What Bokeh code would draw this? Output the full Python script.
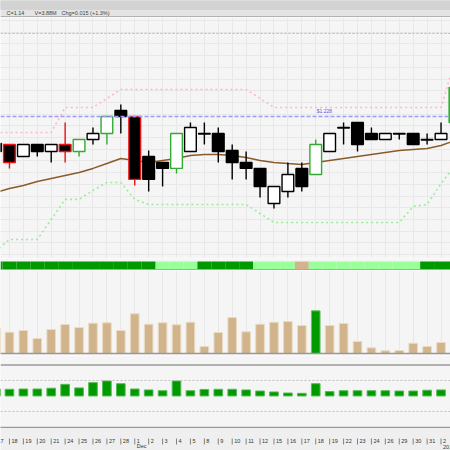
from bokeh.plotting import figure
from bokeh.layouts import column
from bokeh.models import ColumnDataSource, Span, FixedTicker, SingleIntervalTicker, Range1d
from bokeh.core.properties import value
from bokeh.embed import file_html
from bokeh.resources import INLINE

# ---------------- data ----------------
day_labels = ["17", "18", "19", "20", "21", "24", "25", "26", "27", "28",
              "1", "2", "3", "4", "5", "8", "9", "10", "11", "12",
              "15", "16", "17", "18", "19", "22", "23", "24", "26", "29",
              "30", "31", "2", "5"]
month_index = [10, 32]
month_names = ["Dec", "2015"]

opens = [1.2049, 1.2041, 1.1938, 1.2041, 1.1981, 1.2041, 1.1981, 1.2083, 1.2135, 1.2331,
         1.2280, 1.1938, 1.1887, 1.1836, 1.1981, 1.2135, 1.2135, 1.1989, 1.1887, 1.1836,
         1.1536, 1.1639, 1.1836, 1.1784, 1.1981, 1.2186, 1.2229, 1.2135, 1.2083, 1.2135,
         1.2135, 1.2083, 1.2083, 1.2229]
highs = [1.2075, 1.2041, 1.2041, 1.2041, 1.2041, 1.2229, 1.2083, 1.2186, 1.2280, 1.2383,
         1.2280, 1.1989, 1.1887, 1.2135, 1.2229, 1.2229, 1.2186, 1.2041, 1.1981, 1.1836,
         1.1682, 1.1887, 1.1887, 1.2083, 1.2135, 1.2229, 1.2229, 1.2186, 1.2135, 1.2135,
         1.2135, 1.2135, 1.2229, 1.2540]
lows = [1.1938, 1.1836, 1.1938, 1.1938, 1.1887, 1.1887, 1.1938, 1.2041, 1.2041, 1.2135,
        1.1690, 1.1639, 1.1682, 1.1793, 1.1981, 1.2041, 1.1887, 1.1742, 1.1742, 1.1588,
        1.1494, 1.1588, 1.1639, 1.1784, 1.1981, 1.2041, 1.1981, 1.2083, 1.2083, 1.2083,
        1.2041, 1.2041, 1.2083, 1.2229]
closes = [1.1981, 1.1887, 1.2041, 1.1981, 1.2041, 1.1981, 1.2083, 1.2135, 1.2280, 1.2280,
          1.1742, 1.1742, 1.1836, 1.2135, 1.2186, 1.2130, 1.1981, 1.1887, 1.1836, 1.1682,
          1.1682, 1.1784, 1.1682, 1.2041, 1.2135, 1.2181, 1.2041, 1.2083, 1.2135, 1.2130,
          1.2041, 1.2078, 1.2135, 1.2528]
# candle outline signal: k = neutral, r = bearish signal, g = bullish signal
signal = ["k", "r", "k", "k", "k", "r", "g", "k", "g", "k",
          "r", "k", "k", "g", "k", "k", "k", "k", "k", "k",
          "k", "k", "k", "g", "k", "k", "k", "k", "k", "k",
          "k", "k", "k", "g"]

ma = [1.1630, 1.1665, 1.1690, 1.1724, 1.1750, 1.1776, 1.1801, 1.1836, 1.1878, 1.1921,
      1.1904, 1.1887, 1.1904, 1.1921, 1.1947, 1.1955, 1.1955, 1.1947, 1.1930, 1.1904,
      1.1887, 1.1878, 1.1870, 1.1887, 1.1904, 1.1921, 1.1938, 1.1955, 1.1972, 1.1989,
      1.1998, 1.2006, 1.2032, 1.2075]
upper_stop = [1.2143, 1.2143, 1.2143, 1.2143, 1.2143, 1.2357, 1.2357, 1.2357, 1.2434, 1.2511,
              1.2511, 1.2511, 1.2511, 1.2511, 1.2511, 1.2511, 1.2511, 1.2511, 1.2511, 1.2434,
              1.2357, 1.2357, 1.2357, 1.2357, 1.2357, 1.2357, 1.2357, 1.2357, 1.2357, 1.2357,
              1.2357, 1.2357, 1.2357, 1.2759]
lower_stop = [1.1126, 1.1229, 1.1229, 1.1229, 1.1400, 1.1571, 1.1571, 1.1648, 1.1716, 1.1716,
              1.1571, 1.1528, 1.1528, 1.1528, 1.1528, 1.1528, 1.1528, 1.1528, 1.1528, 1.1451,
              1.1374, 1.1374, 1.1374, 1.1374, 1.1374, 1.1374, 1.1374, 1.1374, 1.1374, 1.1374,
              1.1511, 1.1528, 1.1707, 1.1861]
resistance = 1.228
upper_ref = 1.299

trend_state = ["strong"] * 12 + ["weak"] * 3 + ["strong"] * 4 + ["weak"] * 3 + ["neutral"] + \
              ["weak"] * 8 + ["strong"] * 3

volume_m = [2.50, 2.13, 2.30, 1.50, 2.40, 2.90, 2.60, 3.03, 3.07, 2.30,
            3.97, 2.93, 3.07, 2.87, 3.13, 0.70, 2.10, 3.60, 2.17, 2.93,
            3.13, 3.20, 2.80, 4.27, 2.80, 3.00, 1.20, 0.57, 0.27, 0.30,
            1.03, 0.70, 1.10, 3.88]
volume_flag = ["n"] * 23 + ["u"] + ["n"] * 10

osc = [0.45, 0.43, 0.45, 0.45, 0.50, 0.75, 0.52, 0.86, 0.97, 0.79,
       0.45, 0.39, 0.34, 0.97, 0.34, 0.42, 0.43, 0.43, 0.39, 0.32,
       0.26, 0.19, 0.17, 0.79, 0.28, 0.34, 0.34, 0.34, 0.34, 0.32,
       0.32, 0.37, 0.39, 0.80]

header_texts = ["C=1.14", "V=3.88M", "Chg=0.015 (+1.3%)"]
header_x = [6, 34, 61]

# ---------------- styling ----------------
W = 450
FONT = "Liberation Sans"
BG = "#f5f5f5"
GRID = "#e8e8e8"
edge_map = {"k": "#000000", "r": "#ee1111", "g": "#33aa33"}
state_map = {"strong": "#009900", "weak": "#99ff99", "neutral": "#d2b48c"}
vol_map = {"n": "#d2b48c", "u": "#009900"}
vol_edge = {"n": "#eadcc4", "u": "#66c266"}

n = len(day_labels)
xs = list(range(n))
xr = Range1d(0.357, 32.68)
# only dates whose tick falls inside the visible window get a label
shown = [i for i in xs if i <= xr.end]


def panel(h, yr, bg=BG):
    p = figure(width=W, height=h, x_range=xr, y_range=yr, output_backend="svg",
               toolbar_location=None, x_axis_location=None, y_axis_location=None,
               min_border=0, background_fill_color=bg, border_fill_color=bg,
               outline_line_color=None)
    p.xgrid.grid_line_color = None
    p.ygrid.grid_line_color = None
    return p


# ---------------- header ----------------
hdr = figure(width=W, height=17, x_range=Range1d(0, 450), y_range=Range1d(0, 17),
             output_backend="svg", toolbar_location=None, x_axis_location=None,
             y_axis_location=None, min_border=0, border_fill_color="#e4e4e4",
             background_fill_color="#e4e4e4", outline_line_color=None)
hdr.grid.grid_line_color = None
hdr.quad(left=0, right=450, bottom=8, top=17, color="#d3d3d3")
hdr.segment(x0=0, y0=0.6, x1=450, y1=0.6, line_color="#a0a0a0", line_width=1.2)
hdr.text(x=header_x, y=[4.3] * 3, text=header_texts, text_font=value(FONT),
         text_font_size="5.5px", text_baseline="middle", text_color="#444444")

# ---------------- main price panel ----------------
main = panel(241, Range1d(1.1066, 1.3126))
main.xgrid.grid_line_color = GRID
main.ygrid.grid_line_color = GRID
main.xgrid.ticker = FixedTicker(ticks=xs)
main.ygrid.ticker = SingleIntervalTicker(interval=0.01)

main.add_layout(Span(location=upper_ref, dimension="width", line_color="#b5b5b5",
                     line_dash="2 2", line_width=1))
main.add_layout(Span(location=resistance, dimension="width", line_color="#9c9cf5",
                     line_dash="4 2", line_width=1.5))
main.text(x=[23], y=[resistance], text=["$1.228"], x_offset=1, y_offset=-2,
          text_font=value(FONT), text_font_size="5px", text_color="#5a5ae6",
          text_baseline="bottom", text_align="left")
main.line(xs, upper_stop, line_color="#ffb6c6", line_dash="2 3", line_width=1.6)
main.line(xs, lower_stop, line_color="#98ee98", line_dash="2 3", line_width=1.6)
main.line(xs, ma, line_color="#8b5a2b", line_width=1.5)

csrc = ColumnDataSource(dict(
    x=xs, h=highs, l=lows,
    top=[max(o, c) for o, c in zip(opens, closes)],
    bottom=[min(o, c) for o, c in zip(opens, closes)],
    fill=["#ffffff" if c >= o else "#000000" for o, c in zip(opens, closes)],
    edge=[edge_map[s] for s in signal],
))
main.segment(x0="x", y0="h", x1="x", y1="l", line_color="edge", line_width=1.4, source=csrc)
main.vbar(x="x", width=0.84, top="top", bottom="bottom", fill_color="fill",
          line_color="edge", line_width=1.4, source=csrc)

# ---------------- trend strip ----------------
strip = panel(12, Range1d(0, 12))
strip.vbar(x=xs, width=1.0, bottom=1.6, top=9, line_color=None,
           fill_color=[state_map[s] for s in trend_state])
strip.segment(x0=[-1.0], y0=[1], x1=[40.0], y1=[1], line_color="#a8a8a8", line_width=1)

# ---------------- volume ----------------
vol = panel(85, Range1d(-0.2, 8.3))
vol.xgrid.grid_line_color = GRID
vol.xgrid.ticker = FixedTicker(ticks=xs)
vol.vbar(x=xs, width=0.62, bottom=0, top=volume_m,
         fill_color=[vol_map[f] for f in volume_flag],
         line_color=[vol_edge[f] for f in volume_flag], line_width=1)
vol.add_layout(Span(location=0, dimension="width", line_color="#999999", line_width=1.5))

# ---------------- oscillator ----------------
ind = panel(71, Range1d(-1.97, 2.61))
ind.add_layout(Span(location=2, dimension="width", line_color="#9a9a9a", line_width=1.5))
ind.add_layout(Span(location=1, dimension="width", line_color="#bdbdbd", line_dash="2 2", line_width=1))
ind.add_layout(Span(location=-1, dimension="width", line_color="#bdbdbd", line_dash="2 2", line_width=1))
ind.vbar(x=xs, width=0.62, bottom=0, top=osc, fill_color="#009900",
         line_color="#55bb55", line_width=1)

# ---------------- date axis ----------------
ax = panel(24, Range1d(0, 24), bg="#efefef")
ax.segment(x0=[-1.0], y0=[23.3], x1=[40.0], y1=[23.3], line_color="#9a9a9a", line_width=1.5)
ax.segment(x0=xs, y0=[6] * n, x1=xs, y1=[12] * n, line_color="#666666", line_width=0.8)
ax.text(x=shown, y=[7.5] * len(shown), text=[day_labels[i] for i in shown], x_offset=2,
        text_font=value(FONT), text_font_size="5.5px", text_color="#333333",
        text_baseline="bottom", text_align="left")
ax.text(x=month_index, y=[1.5] * len(month_index), text=month_names, x_offset=2,
        text_font=value(FONT), text_font_size="5.5px", text_color="#333333",
        text_baseline="bottom", text_align="left")

layout = column(hdr, main, strip, vol, ind, ax, spacing=0)
open("out.html", "w").write(file_html(layout, INLINE))
